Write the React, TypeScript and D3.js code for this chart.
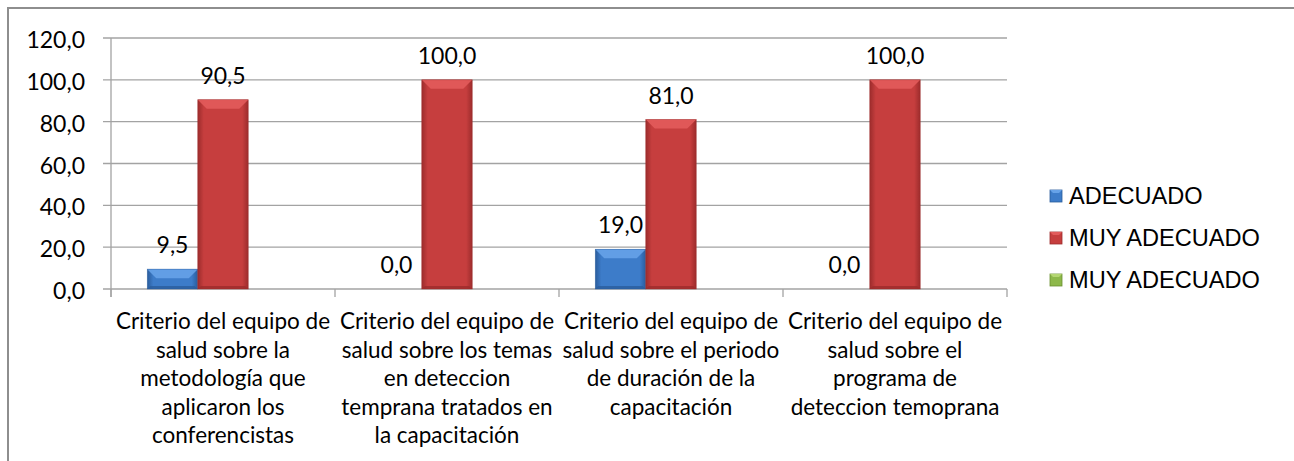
import React from "react";
import * as d3 from "d3";

const categories: string[] = [
  "Criterio del equipo de\nsalud sobre la\nmetodología que\naplicaron los\nconferencistas",
  "Criterio del equipo de\nsalud sobre los temas\nen deteccion\ntemprana tratados en\nla capacitación",
  "Criterio del equipo de\nsalud sobre el periodo\nde duración de la\ncapacitación",
  "Criterio del equipo de\nsalud sobre el\nprograma de\ndeteccion temoprana",
];
const seriesNames: string[] = ["ADECUADO", "MUY ADECUADO", "MUY ADECUADO"];
const adecuado: (number | null)[] = [9.5, 0.0, 19.0, 0.0];
const muyAdecuado: (number | null)[] = [90.5, 100.0, 81.0, 100.0];
const muyAdecuado2: (number | null)[] = [null, null, null, null];
const yTicks: number[] = [0, 20, 40, 60, 80, 100, 120];

const W = 1294;
const H = 461;
const plot = { left: 111, right: 1007, top: 38, bottom: 289 };
const palette = [
  { base: "#3d7cc9", light: "#66a2e8", dark: "#2a5c9c" },
  { base: "#c63e3e", light: "#e25b5b", dark: "#9c2c2c" },
  { base: "#8db84a", light: "#b4d672", dark: "#6a8f30" },
];
const FONT_C = "Lato, 'Open Sans', sans-serif";
const FONT_A = "'Liberation Sans', Arial, sans-serif";
const gridColor = "#a3a3a3";

const fmt = (v: number) => d3.format(".1f")(v).replace(".", ",");

function Bar({ x, y, w, h, ci, id }: { x: number; y: number; w: number; h: number; ci: number; id: string }) {
  if (h <= 0) return null;
  const c = palette[ci];
  const b = Math.min(9, h / 2);
  const e = Math.min(3, w / 6);
  return (
    <g>
      <rect x={x} y={y} width={w} height={h} fill={`url(#${id})`} />
      <polygon
        points={`${x},${y} ${x + w},${y} ${x + w - b},${y + b} ${x + b},${y + b}`}
        fill={c.light}
        opacity={0.9}
      />
      <polygon
        points={`${x},${y + h} ${x + w},${y + h} ${x + w - e},${y + h - e} ${x + e},${y + h - e}`}
        fill={c.dark}
        opacity={0.8}
      />
      <rect x={x} y={y} width={w} height={h} fill="none" stroke={c.dark} strokeWidth={0.6} opacity={0.7} />
    </g>
  );
}

export default function App() {
  const series = [adecuado, muyAdecuado, muyAdecuado2];
  const y = d3.scaleLinear().domain([0, 120]).range([plot.bottom, plot.top]);
  const x0 = d3.scaleBand<number>().domain(d3.range(categories.length)).range([plot.left, plot.right]).padding(0);
  const step = x0.step();
  const gap = step * 0.3237;
  const x1 = d3.scaleBand<number>().domain(d3.range(series.length)).range([gap / 2, step - gap / 2]).padding(0);
  const bw = x1.bandwidth();

  return (
    <svg width={W} height={H} style={{ position: "absolute", left: 0, top: 0, background: "#fff" }}>
      <defs>
        {palette.map((c, i) => (
          <linearGradient key={i} id={`g${i}`} x1="0" x2="1" y1="0" y2="0">
            <stop offset="0%" stopColor={c.dark} />
            <stop offset="12%" stopColor={c.base} />
            <stop offset="50%" stopColor={c.base} />
            <stop offset="88%" stopColor={c.base} />
            <stop offset="100%" stopColor={c.dark} />
          </linearGradient>
        ))}
      </defs>
      {/* outer frame */}
      <rect x={8} y={8} width={W + 50} height={H + 50} fill="none" stroke="#8e8e8e" strokeWidth={2} />

      {/* gridlines */}
      {yTicks.map((t) => (
        <line key={t} x1={plot.left - 8} x2={plot.right} y1={y(t)} y2={y(t)} stroke={gridColor} strokeWidth={1.3} />
      ))}
      {/* y axis */}
      <line x1={plot.left} x2={plot.left} y1={plot.top} y2={plot.bottom + 8} stroke={gridColor} strokeWidth={1.3} />
      {/* category ticks */}
      {d3.range(categories.length + 1).map((i) => {
        const xx = plot.left + i * step;
        return <line key={i} x1={xx} x2={xx} y1={plot.bottom} y2={plot.bottom + 8} stroke={gridColor} strokeWidth={1.3} />;
      })}
      {/* y labels */}
      {yTicks.map((t) => (
        <text key={t} x={85} y={y(t) + 10} textAnchor="end" fontFamily={FONT_C} fontSize={23} fill="#000">
          {fmt(t)}
        </text>
      ))}

      {/* bars */}
      {series.map((s, si) =>
        s.map((v, ci) => {
          if (v === null) return null;
          const bx = (x0(ci) as number) + (x1(si) as number);
          const top = y(v);
          return <Bar key={`${si}-${ci}`} x={bx} y={top} w={bw} h={plot.bottom - top} ci={si} id={`g${si}`} />;
        })
      )}
      {/* data labels */}
      {series.map((s, si) =>
        s.map((v, ci) => {
          if (v === null) return null;
          const bx = (x0(ci) as number) + (x1(si) as number) + bw / 2;
          return (
            <text key={`l${si}-${ci}`} x={bx} y={y(v) - 16} textAnchor="middle" fontFamily={FONT_C} fontSize={23} fill="#000">
              {fmt(v)}
            </text>
          );
        })
      )}

      {/* category labels */}
      {categories.map((c, ci) => {
        const cx = (x0(ci) as number) + step / 2;
        return (
          <text key={ci} textAnchor="middle" fontFamily={FONT_C} fontSize={22.5} fill="#000">
            {c.split("\n").map((ln, li) => (
              <tspan key={li} x={cx} y={329 + li * 28.5}>
                {ln}
              </tspan>
            ))}
          </text>
        );
      })}

      {/* legend */}
      {seriesNames.map((n, i) => {
        const cy = 196 + i * 42;
        const c = palette[i];
        return (
          <g key={i}>
            <rect x={1050} y={cy - 6} width={12} height={12} fill={c.base} stroke={c.dark} strokeWidth={0.8} />
            <polygon points={`1050,${cy - 6} 1062,${cy - 6} 1059,${cy - 3} 1053,${cy - 3}`} fill={c.light} />
            <text x={1069} y={cy + 8} fontFamily={FONT_A} fontSize={23.6} fill="#000">
              {n}
            </text>
          </g>
        );
      })}
    </svg>
  );
}
